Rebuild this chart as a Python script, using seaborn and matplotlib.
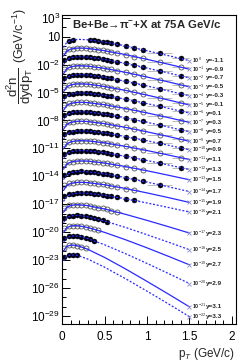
import matplotlib
matplotlib.use("Agg")
import matplotlib.pyplot as plt
import seaborn as sns
import numpy as np
from matplotlib.ticker import FixedLocator, NullFormatter

# rapidity bins, each spectrum drawn scaled by 10^-k
rapidity = [-1.1, -0.9, -0.7, -0.5, -0.3, -0.1, 0.1, 0.3, 0.5, 0.7, 0.9, 1.1,
            1.3, 1.5, 1.7, 1.9, 2.1, 2.3, 2.5, 2.7, 2.9, 3.1, 3.3]

# fit curves: log10(d2n/dydpT) (unscaled) read at these pT points
fit_pt = [0.015, 0.05, 0.1, 0.15, 0.2, 0.3, 0.5, 0.75, 1.0, 1.25, 1.5]
fit_log = [
    [-0.17, 0.34, 0.58, 0.67, 0.70, 0.66, 0.41, -0.02, -0.52, -1.04, -1.58],
    [-0.09, 0.42, 0.66, 0.75, 0.78, 0.74, 0.49, 0.06, -0.44, -0.96, -1.50],
    [-0.03, 0.48, 0.72, 0.81, 0.84, 0.80, 0.55, 0.12, -0.38, -0.90, -1.44],
    [0.01, 0.52, 0.76, 0.85, 0.88, 0.84, 0.59, 0.16, -0.34, -0.86, -1.40],
    [0.05, 0.56, 0.80, 0.89, 0.92, 0.88, 0.63, 0.20, -0.30, -0.82, -1.36],
    [0.07, 0.58, 0.82, 0.91, 0.94, 0.90, 0.65, 0.22, -0.28, -0.80, -1.34],
    [0.07, 0.58, 0.82, 0.92, 0.95, 0.92, 0.69, 0.28, -0.19, -0.69, -1.21],
    [0.07, 0.58, 0.82, 0.92, 0.95, 0.92, 0.69, 0.28, -0.19, -0.69, -1.21],
    [0.06, 0.57, 0.81, 0.91, 0.94, 0.91, 0.68, 0.27, -0.20, -0.70, -1.22],
    [0.04, 0.55, 0.79, 0.89, 0.92, 0.89, 0.66, 0.25, -0.22, -0.72, -1.24],
    [-0.01, 0.50, 0.75, 0.84, 0.88, 0.86, 0.65, 0.26, -0.18, -0.66, -1.15],
    [-0.06, 0.45, 0.70, 0.79, 0.83, 0.81, 0.60, 0.21, -0.23, -0.71, -1.20],
    [-0.13, 0.38, 0.63, 0.72, 0.76, 0.74, 0.53, 0.14, -0.30, -0.78, -1.27],
    [-0.23, 0.28, 0.53, 0.62, 0.66, 0.64, 0.43, 0.04, -0.40, -0.88, -1.37],
    [-0.36, 0.15, 0.39, 0.49, 0.52, 0.49, 0.26, -0.15, -0.62, -1.12, -1.64],
    [-0.52, -0.01, 0.23, 0.33, 0.36, 0.33, 0.10, -0.31, -0.78, -1.28, -1.80],
    [-0.69, -0.18, 0.07, 0.16, 0.20, 0.18, -0.04, -0.42, -0.86, -1.34, -1.83],
    [-0.86, -0.36, -0.13, -0.05, -0.05, -0.14, -0.51, -1.09, -1.73, -2.40, -3.09],
    [-0.96, -0.47, -0.25, -0.20, -0.21, -0.35, -0.80, -1.50, -2.27, -3.06, -3.88],
    [-1.03, -0.54, -0.33, -0.29, -0.32, -0.49, -1.02, -1.82, -2.68, -3.58, -4.50],
    [-1.09, -0.60, -0.41, -0.39, -0.45, -0.68, -1.35, -2.32, -3.35, -4.42, -5.51],
    [-1.02, -0.54, -0.38, -0.40, -0.50, -0.83, -1.71, -2.96, -4.28, -5.63, -7.01],
    [-1.07, -0.59, -0.43, -0.45, -0.55, -0.88, -1.76, -3.01, -4.33, -5.68, -7.06],
]

# measured points: pT bin centres / half widths and log10 values per rapidity bin
pt_bins = [0.025, 0.075, 0.125, 0.175, 0.225, 0.275, 0.325, 0.375, 0.425, 0.475,
           0.525, 0.575, 0.65, 0.75, 0.85, 0.95, 1.15, 1.4]
pt_half = [0.025] * 12 + [0.05, 0.05, 0.05, 0.05, 0.15, 0.1]
data_log = [
    [None, 0.50, 0.65, None, None, None, 0.64, 0.59, 0.52, 0.44, 0.38, 0.29, 0.17, -0.01, -0.21, -0.42, -0.80, -1.33],
    [0.45, 0.66, 0.72, 0.77, 0.78, 0.76, 0.72, 0.66, 0.60, 0.53, 0.45, 0.37, 0.24, 0.06, -0.14, -0.33, -0.75, -1.28],
    [0.51, 0.72, 0.78, 0.83, 0.84, 0.82, 0.78, 0.72, 0.66, 0.59, 0.51, 0.43, 0.30, 0.12, -0.08, -0.27, -0.69, -1.22],
    [0.55, 0.76, 0.82, 0.87, 0.88, 0.86, 0.82, 0.76, 0.70, 0.63, 0.55, 0.47, 0.34, 0.16, -0.04, -0.23, -0.65, -1.18],
    [0.59, 0.80, 0.86, 0.91, 0.92, 0.90, 0.86, 0.80, 0.74, 0.67, 0.59, 0.51, 0.38, 0.20, 0.00, -0.19, -0.61, -1.14],
    [0.61, 0.82, 0.88, 0.93, 0.94, 0.92, 0.88, 0.82, 0.76, 0.69, 0.61, 0.53, 0.40, 0.22, 0.02, -0.17, -0.59, -1.12],
    [0.62, 0.83, 0.88, 0.94, 0.95, 0.93, 0.90, 0.85, 0.79, 0.72, 0.65, 0.58, 0.45, 0.28, 0.10, -0.09, -0.49, -1.00],
    [0.62, 0.83, 0.89, 0.94, 0.95, 0.94, 0.89, 0.85, 0.78, 0.73, 0.65, 0.57, 0.46, 0.27, 0.09, -0.08, -0.48, -1.01],
    [0.61, 0.82, 0.87, 0.93, 0.94, 0.92, 0.89, 0.84, 0.78, 0.71, 0.64, 0.57, 0.44, 0.27, 0.09, -0.10, -0.50, -1.01],
    [0.59, 0.80, 0.85, 0.91, 0.92, 0.90, 0.87, 0.82, 0.76, 0.69, 0.62, 0.55, 0.42, 0.25, 0.07, -0.12, -0.52, -1.03],
    [0.55, 0.76, 0.81, 0.87, 0.88, 0.87, 0.84, 0.79, 0.74, 0.68, 0.61, 0.54, 0.42, 0.26, 0.09, -0.09, -0.46, -0.95],
    [0.50, 0.71, 0.76, 0.82, 0.83, 0.82, 0.79, 0.74, 0.69, 0.63, 0.56, 0.49, 0.37, 0.21, 0.04, -0.14, -0.51, -1.00],
    [0.43, 0.64, 0.69, 0.75, 0.76, 0.75, 0.72, 0.67, 0.62, 0.56, 0.49, 0.42, 0.30, 0.14, -0.03, -0.21, -0.58, -1.07],
    [0.33, 0.54, 0.59, 0.65, 0.66, 0.65, 0.62, 0.57, 0.52, 0.46, 0.39, 0.32, 0.20, 0.04, -0.13, -0.31],
    [0.19, 0.40, 0.45, 0.51, 0.52, 0.50, 0.47, 0.42, 0.36, 0.29, 0.22, 0.15, 0.02, -0.15, -0.33, -0.52, -0.92],
    [0.03, 0.24, 0.29, 0.35, 0.36, 0.34, 0.31, 0.26, 0.20, 0.13, 0.06, -0.02, -0.14, -0.31, -0.49],
    [-0.13, 0.08, 0.13, 0.19, 0.20, 0.19, 0.16, 0.11, 0.06, 0.00, -0.07, -0.14, -0.26, -0.42, -0.59],
    [-0.35, -0.13, -0.08, -0.05, -0.06, -0.11, -0.18, -0.26, -0.35, -0.45, -0.56, -0.67, -0.84],
    [-0.49, -0.26, -0.21, -0.20, -0.23, -0.30, -0.39, -0.50, -0.62, -0.74, -0.87],
    [-0.57, -0.34, -0.30, -0.30, -0.35, -0.44, -0.55, -0.67, -0.81],
    [-0.67, -0.43, -0.39, -0.41, -0.50, -0.62, -0.76, -0.91],
    [-0.65, -0.42, -0.37, -0.44, -0.57, -0.74],
    [-0.70, -0.47, -0.42, -0.49],
]

sns.set_style("ticks")
plt.rcParams["font.family"] = ["Liberation Sans", "DejaVu Sans"]
plt.rcParams["mathtext.fontset"] = "custom"
plt.rcParams["mathtext.rm"] = "Liberation Sans"
plt.rcParams["mathtext.it"] = "Liberation Sans:italic"
plt.rcParams["mathtext.bf"] = "Liberation Sans:bold"

fig = plt.figure(figsize=(2.49, 3.61), dpi=100)
ax = fig.add_axes([0.250, 0.1025, 0.698, 0.856])
ax.set_yscale("log")

blue = "#2a2aff"
for k, y in enumerate(rapidity):
    filled = (k % 2 == 0)
    scale = 10.0 ** (-k)
    # data
    xs, ys, xe = [], [], []
    for pt, hw, v in zip(pt_bins, pt_half, data_log[k]):
        if v is None:
            continue
        xs.append(pt)
        ys.append(10.0 ** v * scale)
        xe.append(hw)
    ax.errorbar(xs, ys, xerr=xe, fmt="none", ecolor="#b0b0b0", elinewidth=0.6, zorder=1)
    if filled:
        sns.scatterplot(x=xs, y=ys, ax=ax, marker="o", s=13, color="#000010",
                        edgecolor="#000010", linewidth=0.3, zorder=2)
    else:
        ax.plot(xs, ys, "o", ms=3.6, mfc="none", mec="#555555", mew=0.6, zorder=2)
    # fit
    fy = [10.0 ** v * scale for v in fit_log[k]]
    sns.lineplot(x=fit_pt, y=fy, ax=ax, color=blue, lw=0.9,
                 linestyle=(0, (1.6, 1.4)) if filled else "-", zorder=3)
    ax.plot([1.5], [fy[-1]], "x", ms=2.6, mew=0.6, color="#8c8ccc", zorder=3)
    ax.text(1.525, fy[-1], "10$^{%d}$" % (-k), fontsize=3.9, fontweight="bold",
            ha="left", va="center")
    ax.text(1.70, fy[-1], "y=%.1f" % y, fontsize=4.6, fontweight="bold",
            ha="left", va="center")

ax.set_xlim(0, 2.05)
ax.set_ylim(1.4e-30, 2.1e3)

ymaj = [3, 1] + list(range(-2, -30, -3))
ax.yaxis.set_major_locator(FixedLocator([10.0 ** e for e in ymaj]))
ax.set_yticklabels(["10$^{3}$", "10"] + ["10$^{%d}$" % e for e in ymaj[2:]])
ax.yaxis.set_minor_locator(FixedLocator([10.0 ** e for e in range(-30, 4)]))
ax.yaxis.set_minor_formatter(NullFormatter())
ax.set_xticks([0, 0.5, 1, 1.5, 2])
ax.set_xticklabels(["0", "0.5", "1", "1.5", "2"])
ax.set_xticks(np.arange(0, 2.05, 0.1), minor=True)

ax.tick_params(which="both", direction="in", labelsize=8.5, width=0.7, colors="black")
ax.tick_params(which="major", length=6)
ax.tick_params(which="minor", length=3)
ax.tick_params(axis="x", pad=5)
ax.tick_params(axis="y", pad=1.5)
for sp in ax.spines.values():
    sp.set_visible(True)
    sp.set_linewidth(0.8)
    sp.set_color("black")

ax.text(0.055, 0.972, "Be+Be\u2192\u03c0$^{\\mathbf{-}}$+X at 75A GeV/c", transform=ax.transAxes,
        fontsize=8.2, fontweight="bold", ha="left", va="center")

fig.text(0.080, 0.762, r"$\dfrac{\mathrm{d^{2}n}}{\mathrm{dydp_{T}}}$", rotation=90,
         fontsize=9.5, ha="center", va="center")
fig.text(0.080, 0.900, "(GeV/c$^{-1}$)", rotation=90,
         fontsize=9, ha="center", va="center")
fig.text(0.945, 0.020, "p$_{T}$ (GeV/c)", fontsize=8.5, ha="right", va="center")

fig.savefig("out.png", dpi=100)
